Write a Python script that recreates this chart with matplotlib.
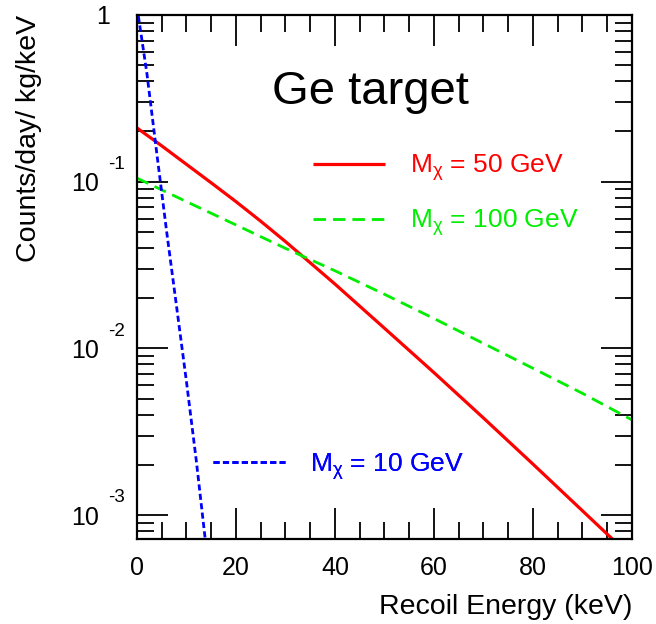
import matplotlib
matplotlib.use("Agg")
import matplotlib.pyplot as plt
from matplotlib.ticker import FixedLocator, LogLocator, NullFormatter, FixedFormatter
from matplotlib.transforms import blended_transform_factory

plt.rcParams['font.family'] = ['Liberation Sans', 'DejaVu Sans']
plt.rcParams['mathtext.fontset'] = 'custom'
plt.rcParams['mathtext.rm'] = 'Liberation Sans'
plt.rcParams['mathtext.it'] = 'Liberation Sans:italic'

# ---- data ----
energy_50 = [0, 5, 10, 15, 20, 25, 30, 35, 40, 50, 60, 70, 80, 90, 100]
rate_50 = [0.210, 0.164, 0.127, 0.0984, 0.0759, 0.0579, 0.0437, 0.0326,
           0.0243, 0.0132, 0.00715, 0.00382, 0.00202, 0.00106, 0.000556]

energy_100 = [0, 10, 20, 30, 40, 50, 60, 70, 80, 90, 100]
rate_100 = [0.105, 0.0759, 0.0550, 0.0398, 0.0292, 0.0211, 0.0151, 0.0107,
            0.00759, 0.00537, 0.00372]

energy_10 = [0, 2, 4, 6, 8, 10, 12, 14]
rate_10 = [1.12, 0.447, 0.148, 0.050, 0.0178, 0.0063, 0.0021, 0.00063]

label_50 = r'M$_\mathregular{χ}$ = 50 GeV'
label_100 = r'M$_\mathregular{χ}$ = 100 GeV'
label_10 = r'M$_\mathregular{χ}$ = 10 GeV'

ytick_vals = [1e-3, 1e-2, 1e-1, 1]
ytick_labels = ['10', '10', '10', '']
ytick_exps = ['-3', '-2', '-1', '']
top_label = '1'
xtick_vals = [0, 20, 40, 60, 80, 100]

fig = plt.figure(figsize=(6.56, 6.24), dpi=100)
ax = fig.add_axes([0.2088, 0.1362, 0.7546, 0.8398])

l50, = ax.plot(energy_50, rate_50, color='#ff0000', lw=2.3, solid_capstyle='butt')
l100, = ax.plot(energy_100, rate_100, color='#00ee00', lw=2.0, dashes=(4.5, 2.5))
l10, = ax.plot(energy_10, rate_10, color='#0000ff', lw=2.0, dashes=(2.2, 1.2))

ax.set_yscale('log')
ax.set_xlim(0, 100)
ax.set_ylim(7.18e-4, 1.0)

ax.xaxis.set_major_locator(FixedLocator(xtick_vals))
ax.xaxis.set_minor_locator(FixedLocator(list(range(0, 101, 5))))
ax.yaxis.set_major_locator(FixedLocator(ytick_vals))
ax.yaxis.set_major_formatter(FixedFormatter(ytick_labels))
ax.yaxis.set_minor_locator(LogLocator(base=10, subs=range(2, 10), numticks=20))
ax.yaxis.set_minor_formatter(NullFormatter())

ax.tick_params(which='both', direction='in', top=True, right=True, width=1.3,
               labelsize=18, colors='black')
ax.tick_params(which='major', length=22)
ax.tick_params(which='minor', length=12)
ax.tick_params(axis='x', pad=12)
ax.tick_params(axis='y', pad=27)
for s in ax.spines.values():
    s.set_linewidth(1.6)

# exponents of the y tick labels (ROOT style, raised above the "10")
trans = blended_transform_factory(ax.transAxes, ax.transData)
for v, e in zip(ytick_vals, ytick_exps):
    if e:
        ax.text(-0.059, v * 1.27, e, transform=trans, fontsize=13.5,
                ha='left', va='center', clip_on=False)
ax.text(-0.083, 0.97, top_label, transform=trans, fontsize=18,
        ha='left', va='center', clip_on=False)

ax.set_xlabel('Recoil Energy (keV)', fontsize=20.5, loc='right', labelpad=10)
ax.set_ylabel('Counts/day/ kg/keV', fontsize=20.5, loc='top', labelpad=21)

ax.text(0.471, 0.830, 'Ge target', transform=ax.transAxes, fontsize=34,
        ha='center', va='baseline')

legend_kw = dict(loc='center left', frameon=False, fontsize=19,
                 handlelength=2.73, handletextpad=0.95, borderpad=0,
                 borderaxespad=0)
for line, lab, col, anchor in [(l50, label_50, '#ff0000', (0.356, 0.708)),
                               (l100, label_100, '#00ee00', (0.356, 0.603)),
                               (l10, label_10, '#0000ff', (0.154, 0.139))]:
    lg = ax.legend([line], [lab], bbox_to_anchor=anchor, **legend_kw)
    for t in lg.get_texts():
        t.set_color(col)
    ax.add_artist(lg)

fig.savefig('out.png', dpi=100)
